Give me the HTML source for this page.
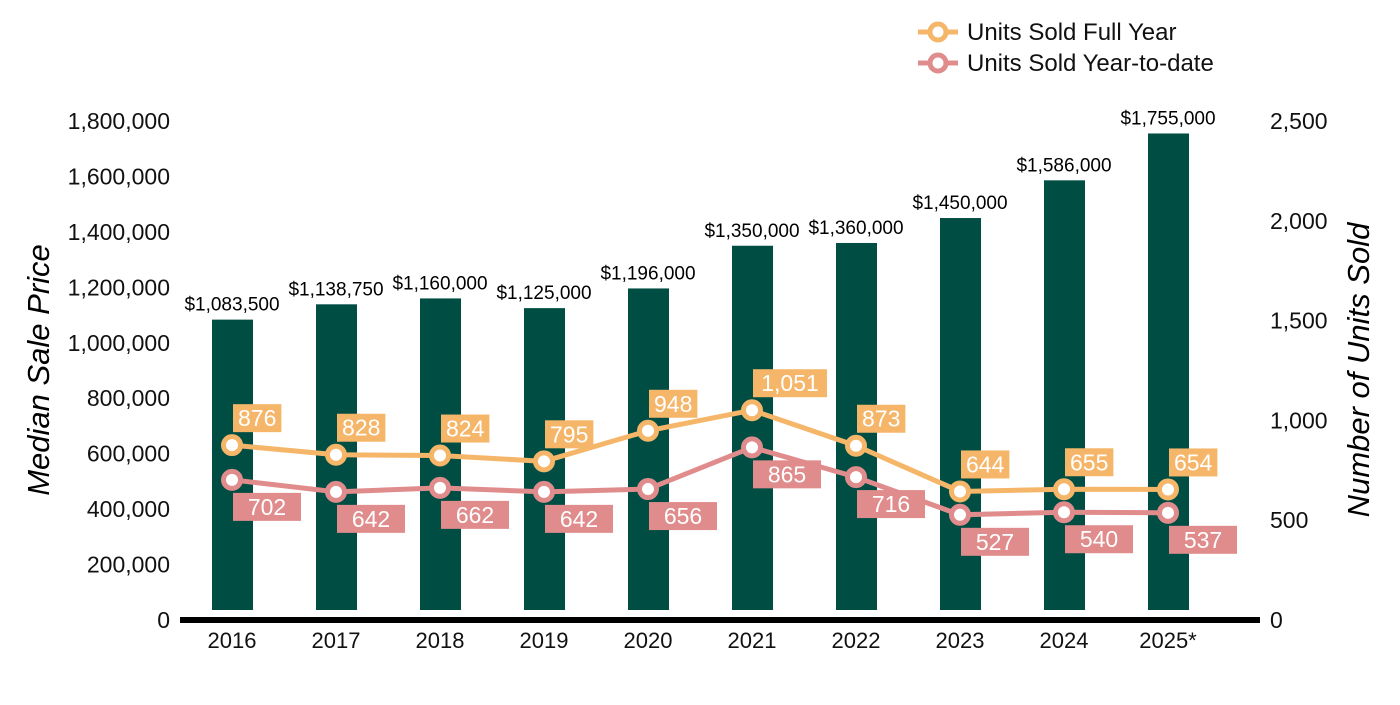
<!DOCTYPE html>
<html><head><meta charset="utf-8"><style>
body{margin:0;background:#fff;}
svg text{font-family:"Liberation Sans",Arial,sans-serif;}
</style></head><body>
<svg id="chart" width="1400" height="700" viewBox="0 0 1400 700">
<g id="legend">
 <g>
  <line x1="918" y1="32" x2="958" y2="32" stroke="#f5b66a" stroke-width="5"/>
  <circle cx="938" cy="32" r="8" fill="#fff" stroke="#f5b66a" stroke-width="5"/>
  <text x="967" y="40" font-size="24" fill="#111">Units Sold Full Year</text>
 </g>
 <g>
  <line x1="918" y1="63" x2="958" y2="63" stroke="#e08c8c" stroke-width="5"/>
  <circle cx="938" cy="63" r="8" fill="#fff" stroke="#e08c8c" stroke-width="5"/>
  <text x="967" y="71" font-size="24" fill="#111">Units Sold Year-to-date</text>
 </g>
</g>
<g id="axes"></g>
<g id="bars"></g>
<g id="lines"></g>
<text transform="translate(49,370) rotate(-90)" text-anchor="middle" font-size="31" font-style="italic" fill="#000">Median Sale Price</text>
<text transform="translate(1369,370) rotate(-90)" text-anchor="middle" font-size="31" font-style="italic" fill="#000">Number of Units Sold</text>
</svg>
<script>
const categories=["2016","2017","2018","2019","2020","2021","2022","2023","2024","2025*"];
const prices=[1083500,1138750,1160000,1125000,1196000,1350000,1360000,1450000,1586000,1755000];
const priceLabels=["$1,083,500","$1,138,750","$1,160,000","$1,125,000","$1,196,000","$1,350,000","$1,360,000","$1,450,000","$1,586,000","$1,755,000"];
const unitsFull=[876,828,824,795,948,1051,873,644,655,654];
const unitsYtd=[702,642,662,642,656,865,716,527,540,537];
const leftTicks=[0,200000,400000,600000,800000,1000000,1200000,1400000,1600000,1800000];
const rightTicks=[0,500,1000,1500,2000,2500];
const NS="http://www.w3.org/2000/svg";
const y0=620,yTop=121;
const yL=v=>y0-v/1800000*(y0-yTop);
const yR=v=>y0-v/2500*(y0-yTop);
const xC=i=>232+i*104;
function mk(tag,attrs,parent,txt){const e=document.createElementNS(NS,tag);for(const k in attrs)e.setAttribute(k,attrs[k]);if(txt!==undefined)e.textContent=txt;parent.appendChild(e);return e;}
const fmt=n=>n.toLocaleString("en-US");
const axes=document.getElementById("axes"),bars=document.getElementById("bars"),lines=document.getElementById("lines");
leftTicks.forEach(v=>{const t=mk("text",{x:170,y:yL(v)+8,"text-anchor":"end","font-size":23,fill:"#111"},axes,fmt(v));

});
rightTicks.forEach(v=>{const t=mk("text",{x:1270,y:yR(v)+8,"font-size":23,fill:"#111"},axes,fmt(v));

});
categories.forEach((c,i)=>{const t=mk("text",{x:xC(i),y:648,"text-anchor":"middle","font-size":22,fill:"#111"},axes,c);


const b=mk("rect",{x:xC(i)-20,y:yL(prices[i]),width:41,height:610-yL(prices[i]),fill:"#004d44"},bars);


const l=mk("text",{x:xC(i),y:yL(prices[i])-9,"text-anchor":"middle","font-size":19,fill:"#000"},bars,priceLabels[i]);

});
const ax=mk("rect",{x:180,y:617,width:1080,height:6,fill:"#000"},axes);


function series(vals,color,name,above){
 const p=mk("polyline",{points:vals.map((v,i)=>xC(i)+","+yR(v)).join(" "),fill:"none",stroke:color,"stroke-width":5},lines);
 
 
 vals.forEach((v,i)=>{
  const c=mk("circle",{cx:xC(i),cy:yR(v),r:8.5,fill:"#fff",stroke:color,"stroke-width":5},lines);
  
  
  const s=fmt(v);const w=above?s.length*12.8+10:68;
  const by=above?yR(v)-41:yR(v)+13;
  const r=mk("rect",{x:xC(i)+1,y:by,width:w,height:28,fill:color},lines);
  
  
  const t=mk("text",{x:xC(i)+1+w/2,y:by+22,"text-anchor":"middle","font-size":23,fill:"#fff"},lines,s);
  
  
 });
}
series(unitsYtd,"#e08c8c","units-ytd",false);
series(unitsFull,"#f5b66a","units-full-year",true);
</script>
</body></html>
